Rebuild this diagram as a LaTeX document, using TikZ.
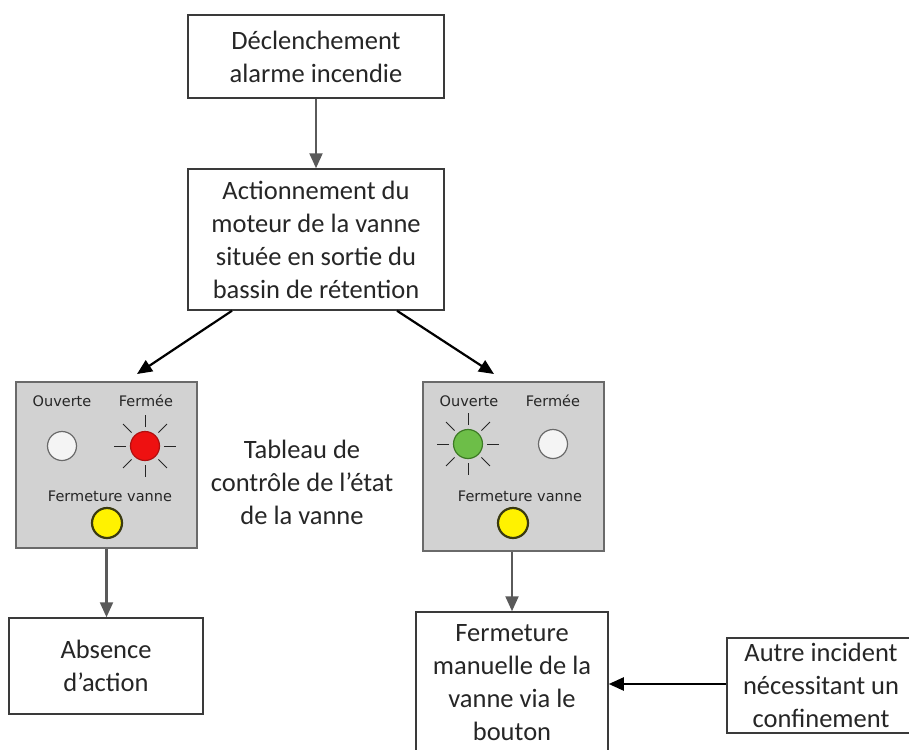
\documentclass[tikz,border=0pt]{standalone}
\usepackage{fontspec}
\setmainfont{Carlito}
\newfontfamily\panelfont{DejaVu Sans}
\usetikzlibrary{arrows.meta}
\definecolor{arrgray}{HTML}{5A5A5A}
\definecolor{boxc}{HTML}{3A3A3A}
\definecolor{txt}{HTML}{262626}
\definecolor{panelfill}{HTML}{D2D2D2}
\definecolor{panelborder}{HTML}{6A6A6A}
\definecolor{lampred}{HTML}{EE1111}
\definecolor{lampredb}{HTML}{B01010}
\definecolor{lampgreen}{HTML}{6DBE48}
\definecolor{lampgreenb}{HTML}{3D7A25}
\definecolor{lampyellow}{HTML}{FFF200}
\definecolor{lampyellowb}{HTML}{3A3A10}
\definecolor{lampwhite}{HTML}{F4F4F4}
\begin{document}
\begin{tikzpicture}[x=1pt,y=-1pt,
  box/.style={draw=boxc, line width=1.5pt, fill=white, align=center, inner sep=0pt,
    font=\fontsize{26.5}{33}\selectfont, text=txt},
  panel/.style={draw=panelborder, line width=1.3pt, fill=panelfill, inner sep=0pt},
  lamp/.style={circle, inner sep=0pt, minimum size=29pt, line width=1.2pt},
  lbl/.style={font=\panelfont\fontsize{14.5}{17}\selectfont, text=txt, inner sep=0pt},
  garr/.style={draw=arrgray, line width=2.2pt, -{Triangle[length=15pt,width=13pt]}},
  barr/.style={draw=black, line width=2.2pt, -{Triangle[length=15pt,width=13pt]}},
  ray/.style={draw=black!85, line width=1pt}]
\useasboundingbox[fill=white] (0,0) rectangle (909,749);

% main boxes
\node[box, minimum width=256pt, minimum height=83pt] (top) at (316,56.5)
  {Déclenchement\\alarme incendie};
\node[box, minimum width=256pt, minimum height=141pt] (b2) at (316,239.5)
  {Actionnement du\\moteur de la vanne\\située en sortie du\\bassin de rétention};

% panels
\node[panel, minimum width=181pt, minimum height=166pt] (pL) at (106.5,465) {};
\node[panel, minimum width=181pt, minimum height=169pt] (pR) at (513.5,466.5) {};

% left panel contents
\node[lbl] (oL) at (62,401) {Ouverte};
\node[lbl] (fL) at (146,401) {Fermée};
\node[lamp, draw=panelborder, fill=lampwhite] (wL) at (62,446) {};
\node[lamp, draw=lampredb, fill=lampred] (rL) at (145,446) {};
\foreach \a in {0,45,...,315} \draw[ray] (rL.center) ++(\a:19) -- ++(\a:12);
\node[lbl] (fvL) at (110,496) {Fermeture vanne};
\node[lamp, draw=lampyellowb, fill=lampyellow, line width=2.2pt, minimum size=30pt] (yL) at (107,523) {};

% right panel contents
\node[lbl] (oR) at (469,401) {Ouverte};
\node[lbl] (fR) at (553,401) {Fermée};
\node[lamp, draw=lampgreenb, fill=lampgreen] (gR) at (468,444) {};
\foreach \a in {0,45,...,315} \draw[ray] (gR.center) ++(\a:19) -- ++(\a:12);
\node[lamp, draw=panelborder, fill=lampwhite] (wR) at (553,444) {};
\node[lbl] (fvR) at (520,496) {Fermeture vanne};
\node[lamp, draw=lampyellowb, fill=lampyellow, line width=2.2pt, minimum size=30pt] (yR) at (513,523) {};

% caption
\node[align=center, inner sep=0pt, font=\fontsize{26.5}{33}\selectfont, text=txt] (cap) at (302,482)
  {Tableau de\\contrôle de l’état\\de la vanne};

% bottom boxes
\node[box, minimum width=194pt, minimum height=96pt] (abs) at (106,666) {Absence\\d’action};
\node[box, minimum width=192pt, minimum height=142pt] (fer) at (512,683)
  {Fermeture\\manuelle de la\\vanne via le\\bouton};
\node[box, minimum width=188pt, minimum height=95pt] (aut) at (821,685.5)
  {Autre incident\\nécessitant un\\confinement};

% connectors
\coordinate (tipL) at (137,374);
\coordinate (tipR) at (494,374);
\draw[garr] (top.south) -- (b2.north);
\draw[barr] ([xshift=-84pt]b2.south) -- (tipL);
\draw[barr] ([xshift=81pt]b2.south) -- (tipR);
\draw[garr] (pL.south) -- (pL.south |- abs.north);
\draw[garr] (pR.south -| fer.north) -- (fer.north);
\draw[barr] ([yshift=1.5pt]aut.west) -- ([yshift=1.5pt]aut.west -| fer.east);
\end{tikzpicture}
\end{document}
